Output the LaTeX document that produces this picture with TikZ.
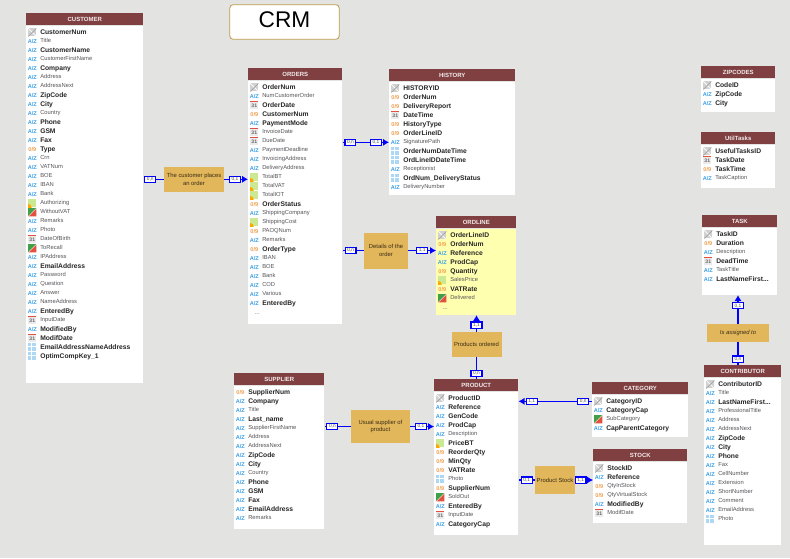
\documentclass[tikz,border=0pt]{standalone}
\usepackage{fontspec}
\setmainfont{Liberation Sans}
\usetikzlibrary{arrows.meta, positioning}

\definecolor{bggray}{RGB}{227,228,226}
\definecolor{headred}{RGB}{128,64,66}
\definecolor{relgold}{RGB}{226,182,90}
\definecolor{rowyellow}{RGB}{255,255,176}
\definecolor{azblue}{RGB}{58,160,232}
\definecolor{numorange}{RGB}{240,160,80}
\definecolor{rowgray}{RGB}{85,85,90}
\definecolor{boolgreen}{RGB}{64,160,72}
\definecolor{boolred}{RGB}{228,80,64}

\newcommand{\trail}{...}
% #1 body fill, #2 name, #3 title, #4 x, #5 y, #6 width, #7 body height, #8 rows
\newcommand{\entity}[8][white]{%
  \node[entityhead, minimum width=#6*0.75pt] (#2head) at (#4,#5) {#3};
  \node[entitybody, fill=#1, minimum width=#6*0.75pt, minimum height=#7*0.75pt, below=0pt of #2head] (#2) {};
  \foreach \kind/\wgt/\txt [count=\i from 0] in {#8} {
    \path (#2head.south west) ++(6.3,6.8+9*\i) node[icon\kind] (#2icon\i) {};
    \path (#2head.south west) ++(14,6.8+9*\i) node[row\wgt] (#2row\i) {\txt};
  }
}

\begin{document}
\begin{tikzpicture}[x=0.75pt, y=-0.75pt,
    entityhead/.style={rectangle, fill=headred, anchor=north west, minimum height=9pt, inner sep=0pt, text=white!90!headred, font=\fontsize{4.5}{5}\selectfont\bfseries},
    entitybody/.style={rectangle, inner sep=0pt},
    relbox/.style={rectangle, fill=relgold, inner sep=0pt, align=center, text=black!75!relgold, font=\fontsize{4.4}{5.5}\selectfont},
    card/.style={rectangle, draw=blue, line width=0.85pt, fill=white, inner sep=0pt, minimum width=8.2pt, minimum height=4.6pt, text=black!70, font=\fontsize{3.6}{4}\selectfont},
    link/.style={draw=blue, line width=0.85pt},
    linkto/.style={link, -{Latex[length=4.5pt, width=5.5pt]}},
    rown/.style={anchor=west, inner sep=0pt, text height=3.2pt, text depth=0.8pt, text=rowgray, font=\fontsize{4.36}{5}\selectfont},
    rowb/.style={anchor=west, inner sep=0pt, text height=3.4pt, text depth=0.8pt, text=black!85, font=\fontsize{5.05}{5}\selectfont\bfseries},
    icontext/.style={inner sep=0pt, font=\fontsize{4.2}{5}\selectfont\bfseries},
    iconaz/.style={icontext, text=azblue, execute at begin node={A/Z}},
    iconnum/.style={icontext, text=numorange, execute at begin node={0/9}},
    iconbox/.style={rectangle, inner sep=0pt, minimum size=6.2pt},
    iconkey/.style={iconbox, fill=black!18, path picture={
        \draw[white, line width=0.5pt] (path picture bounding box.north west) -- (path picture bounding box.south east);
        \draw[black!40, line width=0.4pt] (path picture bounding box.north east) -- (path picture bounding box.south west);}},
    iconcal/.style={iconbox, fill=black!8, text=black!60, font=\fontsize{3.8}{4}\selectfont\bfseries, execute at begin node={\raisebox{-0.6pt}{31}}, path picture={
        \fill[boolred] (path picture bounding box.north west) rectangle ([yshift=-0.9pt]path picture bounding box.north east);}},
    iconbool/.style={iconbox, fill=boolgreen, path picture={
        \fill[boolred] (path picture bounding box.south west) -- (path picture bounding box.south east) -- (path picture bounding box.north east) -- cycle;
        \draw[white, line width=0.25pt] (path picture bounding box.south west) -- (path picture bounding box.north east);}},
    iconmoney/.style={iconbox, fill=yellow!55!green!45, path picture={
        \fill[orange!70!yellow] (path picture bounding box.south west) circle (2.6pt);}},
    iconidx/.style={iconbox, fill=azblue!42, path picture={
        \draw[white, line width=0.35pt] ([xshift=2.2pt]path picture bounding box.north west) -- ([xshift=2.2pt]path picture bounding box.south west);
        \draw[white, line width=0.35pt] ([yshift=-2.2pt]path picture bounding box.north west) -- ([yshift=-2.2pt]path picture bounding box.north east);}}]

\path[use as bounding box, fill=bggray] (0,0) rectangle (790,558);

\node[rectangle, draw=relgold!85!black, fill=white, rounded corners=2.5pt, line width=0.6pt, minimum width=82pt, minimum height=26pt, inner sep=0pt, text depth=3pt, text=black, font=\fontsize{17}{20}\selectfont] (title) at (284.5,22) {CRM};

% entities
\entity{customer}{CUSTOMER}{26}{13}{117}{357}{key/b/CustomerNum, az/n/Title, az/b/CustomerName, az/n/CustomerFirstName, az/b/Company, az/n/Address, az/n/AddressNext, az/b/ZipCode, az/b/City, az/n/Country, az/b/Phone, az/b/GSM, az/b/Fax, num/b/Type, az/n/Crn, az/n/VATNum, az/n/BOE, az/n/IBAN, az/n/Bank, money/n/Authorizing, bool/n/WithoutVAT, az/n/Remarks, az/n/Photo, cal/n/DateOfBirth, bool/n/ToRecall, az/n/IPAddress, az/b/EmailAddress, az/n/Password, az/n/Question, az/n/Answer, az/n/NameAddress, az/b/EnteredBy, cal/n/InputDate, az/b/ModifiedBy, cal/b/ModifDate, idx/b/EmailAddressNameAddress, idx/b/OptimCompKey\_1}
\entity{orders}{ORDERS}{248}{68}{94}{243}{key/b/OrderNum, az/n/NumCustomerOrder, cal/b/OrderDate, num/b/CustomerNum, az/b/PaymentMode, cal/n/InvoiceDate, cal/n/DueDate, az/n/PaymentDeadline, az/n/InvoicingAddress, az/n/DeliveryAddress, money/n/TotalBT, money/n/TotalVAT, money/n/TotalIOT, num/b/OrderStatus, az/n/ShippingCompany, money/n/ShippingCost, num/n/PAOQNum, az/n/Remarks, num/b/OrderType, az/n/IBAN, az/n/BOE, az/n/Bank, az/n/COD, az/n/Various, az/b/EnteredBy}
\path (ordersicon24) ++(3,10) node[rown, anchor=center] (ordersdots) {...};
\entity{history}{HISTORY}{389}{69}{126}{113}{key/b/HISTORYID, num/b/OrderNum, num/b/DeliveryReport, cal/b/DateTime, num/b/HistoryType, num/b/OrderLineID, az/n/SignaturePath, idx/b/OrderNumDateTime, idx/b/OrdLineIDDateTime, az/n/Receptionist, idx/b/OrdNum\_DeliveryStatus, az/n/DeliveryNumber}
\entity[rowyellow]{ordline}{ORDLINE}{436}{216}{80}{86}{key/b/OrderLineID, num/b/OrderNum, az/b/Reference, az/b/ProdCap, num/b/Quantity, money/n/SalesPrice, num/b/VATRate, bool/n/Delivered}
\path (ordlineicon7) ++(3,10) node[rown, anchor=center] (ordlinedots) {...};
\entity{supplier}{SUPPLIER}{234}{373}{90}{143}{num/b/SupplierNum, az/b/Company, az/n/Title, az/b/Last\_name, az/n/SupplierFirstName, az/n/Address, az/n/AddressNext, az/b/ZipCode, az/b/City, az/n/Country, az/b/Phone, az/b/GSM, az/b/Fax, az/b/EmailAddress, az/n/Remarks}
\entity{product}{PRODUCT}{434}{379}{84}{143}{key/b/ProductID, az/b/Reference, az/b/GenCode, az/b/ProdCap, az/n/Description, money/b/PriceBT, num/b/ReorderQty, num/b/MinQty, num/b/VATRate, idx/n/Photo, num/b/SupplierNum, bool/n/SoldOut, az/b/EnteredBy, cal/n/InputDate, az/b/CategoryCap}
\entity{category}{CATEGORY}{592}{382}{96}{42}{key/b/CategoryID, az/b/CategoryCap, bool/n/SubCategory, az/b/CapParentCategory}
\entity{stock}{STOCK}{593}{449}{94}{61}{key/b/StockID, az/b/Reference, num/n/QtyInStock, num/n/QtyVirtualStock, az/b/ModifiedBy, cal/n/ModifDate}
\entity{contrib}{CONTRIBUTOR}{704}{365}{77}{167}{key/b/ContributorID, az/n/Title, az/b/LastNameFirst\trail, az/n/ProfessionalTitle, az/n/Address, az/n/AddressNext, az/b/ZipCode, az/b/City, az/b/Phone, az/n/Fax, az/n/CellNumber, az/n/Extension, az/n/ShortNumber, az/n/Comment, az/n/EmailAddress, idx/n/Photo}
\entity{zipcodes}{ZIPCODES}{701}{66}{74}{33}{key/b/CodeID, az/b/ZipCode, az/b/City}
\entity{utiltasks}{UtilTasks}{701}{132}{74}{43}{key/b/UsefulTasksID, cal/b/TaskDate, num/b/TaskTime, az/n/TaskCaption}
\entity{task}{TASK}{702}{215}{75}{67}{key/b/TaskID, num/b/Duration, az/n/Description, cal/b/DeadTime, az/n/TaskTitle, az/b/LastNameFirst\trail}

% relations
\node[relbox, minimum width=45pt, minimum height=18.8pt] (places) at (194,179.3) {The customer places\\an order};
\node[relbox, minimum width=33pt, minimum height=27pt] (details) at (386,250.5) {Details of the\\order};
\node[relbox, minimum width=37.5pt, minimum height=18.8pt] (ordered) at (476.5,344.5) {Products ordered};
\node[relbox, minimum width=44.3pt, minimum height=24.8pt] (usual) at (380.5,426.5) {Usual supplier of\\product};
\node[relbox, minimum width=30pt, minimum height=20.3pt] (prodstock) at (555,480) {Product Stock};
\node[relbox, minimum width=46.5pt, minimum height=13.5pt, font=\fontsize{4.4}{5.5}\selectfont\itshape] (assigned) at (738,333) {Is assigned to};

% connectors
\draw[link] (places.west) -- node[card, pos=0.67] (c1) {0,n} (places.west -| customer.east);
\draw[linkto] (places.east) -- node[card, pos=0.45] (c2) {0,1} (places.east -| orders.west);
\draw[linkto] (orders.east |- historyrow6) -- node[card, pos=0.17] (c3) {0,n} node[card, pos=0.72] (c4) {0,1} (historyrow6 -| history.west);
\draw[link] (details.west) -- node[card, pos=0.62] (c5) {0,n} (details.west -| orders.east);
\draw[linkto] (details.east) -- node[card, pos=0.5] (c6) {1,1} (details.east -| ordline.west);
\draw[linkto] (ordered.north) -- node[card, pos=0.4] (c7) {1,1} (ordered.north |- ordline.south);
\draw[link] (ordered.south) -- node[card, pos=0.74] (c8) {0,n} (ordered.south |- producthead.north);
\draw[link] (usual.west) -- node[card, pos=0.7] (c9) {0,n} (usual.west -| supplier.east);
\draw[linkto] (usual.east) -- node[card, pos=0.45] (c10) {0,1} (usual.east -| product.west);
\draw[linkto] (categoryrow0 -| category.west) -- node[card, pos=0.12] (c11) {0,n} node[card, pos=0.82] (c12) {1,1} (categoryrow0 -| product.east);
\draw[link] (prodstock.west) -- node[card, pos=0.5] (c13) {0,1} (prodstock.west -| product.east);
\draw[linkto] (prodstock.east) -- node[card, pos=0.3] (c14) {1,1} (prodstock.east -| stock.west);
\draw[linkto] (assigned.north) -- node[card, pos=0.63] (c15) {0,1} (assigned.north |- task.south);
\draw[link] (assigned.south) -- node[card, pos=0.74] (c16) {0,n} (assigned.south |- contribhead.north);
\end{tikzpicture}
\end{document}
